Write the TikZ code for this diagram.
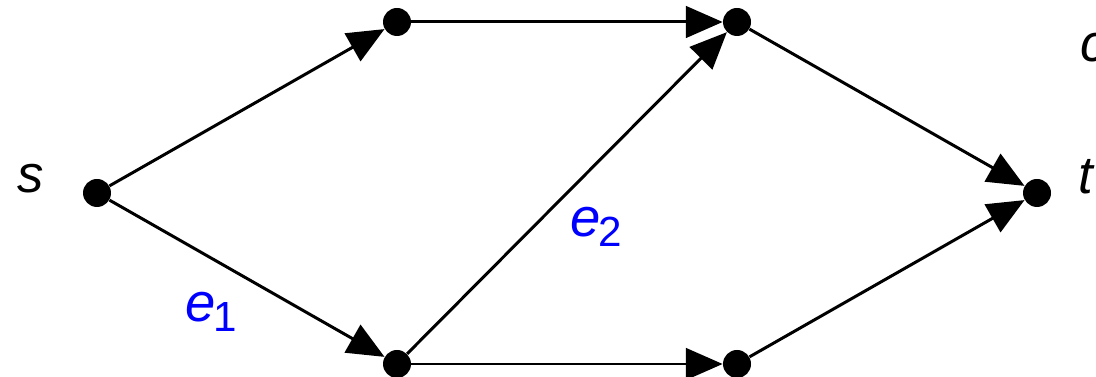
\documentclass[tikz,border=0pt]{standalone}
\usepackage{fontspec}
\setmainfont{Liberation Sans}
\usetikzlibrary{arrows.meta}
\begin{document}
\begin{tikzpicture}[x=0.02cm,y=-0.02cm,
  vtx/.style={circle,fill=black,inner sep=0pt,minimum size=0.56cm},
  edge/.style={line width=1.7pt,-{Triangle[length=21pt,width=18pt]}},
  lbl/.style={inner sep=0pt,font=\fontsize{30}{36}\selectfont\itshape},
  elbl/.style={inner sep=0pt,text=blue,font=\fontsize{31}{36}\selectfont}]
\useasboundingbox (0,0) rectangle (1096,377);
\node[vtx] (s) at (97,193) {};
\node[vtx] (a) at (397,22) {};
\node[vtx] (b) at (737,22) {};
\node[vtx] (t) at (1037,193) {};
\node[vtx] (c) at (397,364) {};
\node[vtx] (d) at (737,364) {};
\draw[edge] (s) -- (a);
\draw[edge] (a) -- (b);
\draw[edge] (b) -- (t);
\draw[edge] (s) -- (c);
\draw[edge] (c) -- (d);
\draw[edge] (d) -- (t);
\draw[edge] (c) -- (b);
\node[lbl,anchor=base west] (sl) at (17,193) {s};
\node[lbl,anchor=base west] (tl) at (1078,194) {t};
\node[lbl,anchor=base west] (cl) at (1080,62) {c};
\node[elbl,anchor=base west] (e1) at (185,322) {\textit{e}\kern-1pt\raisebox{-0.18em}{\fontsize{24}{28}\selectfont 1}};
\node[elbl,anchor=base west] (e2) at (570,237) {\textit{e}\kern-1pt\raisebox{-0.18em}{\fontsize{24}{28}\selectfont 2}};
\end{tikzpicture}
\end{document}
